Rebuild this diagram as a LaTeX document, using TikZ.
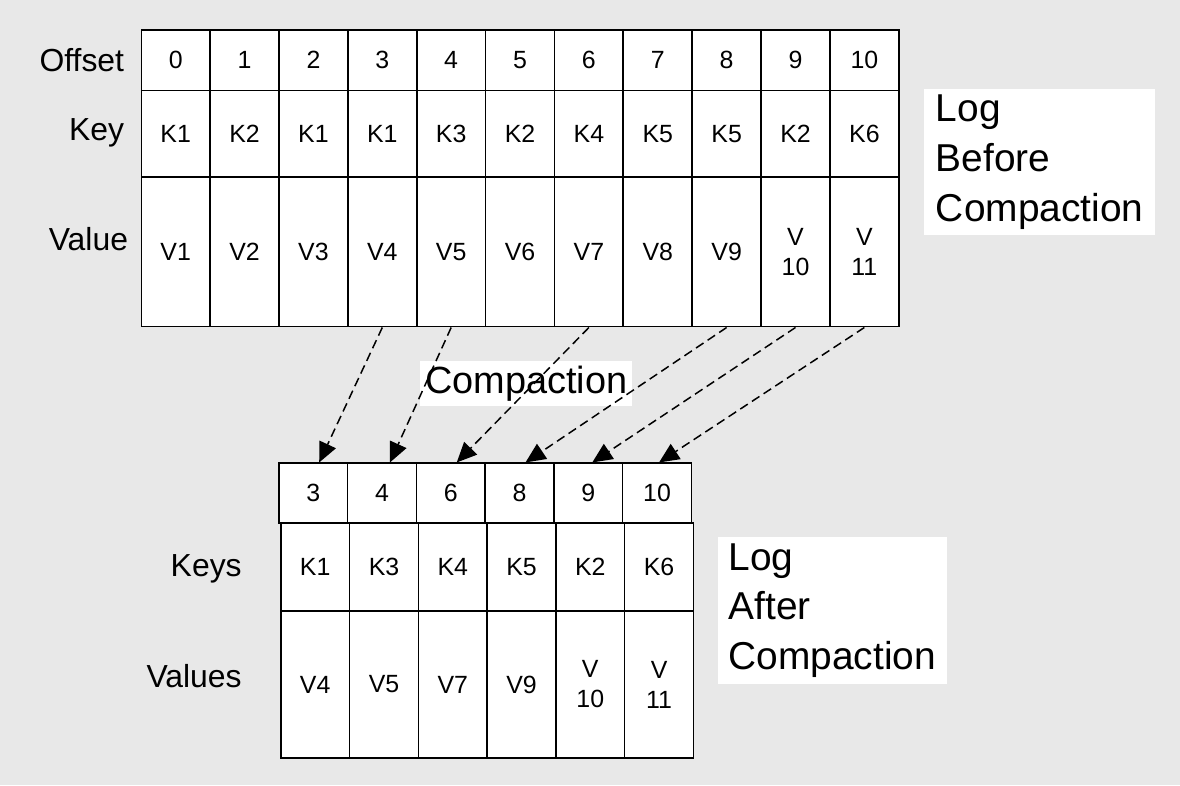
\documentclass[tikz,border=0pt]{standalone}
\usepackage{fontspec}
\setmainfont{Liberation Sans}
\usetikzlibrary{arrows.meta}
\begin{document}
\begin{tikzpicture}[x=1pt,y=-1pt,
  cell/.style={draw,line width=1.6pt,fill=white,inner sep=0pt,anchor=north west,font=\fontsize{25}{30}\selectfont,align=center,minimum width=69pt},
  lab/.style={font=\fontsize{32}{34}\selectfont,anchor=east},
  big/.style={fill=white,font=\fontsize{39}{50}\selectfont,align=left,inner sep=6pt},
  arr/.style={line width=1.5pt,-{Triangle[length=20pt,width=18pt]},dash pattern=on 9pt off 5pt}]
\fill[fill={rgb,255:red,232;green,232;blue,232}] (-2,-2) rectangle (1182,786);
\useasboundingbox (0,0) rectangle (1180,784);
% top table
\foreach \i/\k/\v [count=\n from 0] in {0/K1/V1,1/K2/V2,2/K1/V3,3/K1/V4,4/K3/V5,5/K2/V6,6/K4/V7,7/K5/V8,8/K5/V9,9/K2/{V\\10},10/K6/{V\\11}}{
  \node[cell,minimum height=61pt] (o\n) at (139+69.1*\n,27) {\i};
  \node[cell,minimum height=87pt] (k\n) at (139+69.1*\n,88) {\k};
  \node[cell,minimum height=150pt] (v\n) at (139+69.1*\n,175) {\v};
}
\node[lab] (lo) at (126,58) {Offset};
\node[lab] (lk) at (126,131) {Key};
\node[lab] (lv) at (130,238) {Value};
\node[big,anchor=north west,minimum width=232pt] (lb) at (925,87) {Log\\Before\\Compaction};
% bottom table
\foreach \i/\k/\v [count=\n from 0] in {3/K1/V4,4/K3/V5,6/K4/V7,8/K5/V9,9/K2/{V\\10},10/K6/{V\\11}}{
  \node[cell,minimum height=60pt] (bo\n) at (277+69*\n,462) {\i};
  \node[cell,minimum height=88pt] (bk\n) at (279+69*\n,522) {\k};
  \node[cell,minimum height=148pt] (bv\n) at (279+69*\n,610) {\v};
}
\node[lab] (blk) at (244,569) {Keys};
\node[lab] (blv) at (244,676) {Values};
\node[big,anchor=north west,minimum width=230pt] (la) at (718,537) {Log\\After\\Compaction};
\node[fill=white,font=\fontsize{38}{40}\selectfont,inner sep=5pt] (cmp) at (526,383) {Compaction};
% arrows
\draw[arr] (v3.south) -- ([xshift=6pt]bo0.north);
\draw[arr] (v4.south) -- ([xshift=8pt]bo1.north);
\draw[arr] (v6.south) -- ([xshift=6pt]bo2.north);
\draw[arr] (v8.south) -- ([xshift=6pt]bo3.north);
\draw[arr] (v9.south) -- ([xshift=4pt]bo4.north);
\draw[arr] (v10.south) -- ([xshift=2pt]bo5.north);
\end{tikzpicture}
\end{document}
